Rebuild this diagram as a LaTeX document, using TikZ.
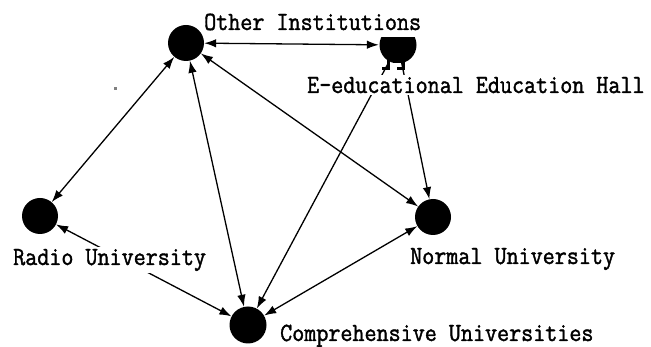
\documentclass[tikz,border=0pt]{standalone}
\usepackage{fontspec}
\newfontfamily\labfont{Latin Modern Mono}[FakeBold=1.6]
\usetikzlibrary{arrows.meta}
\begin{document}
\begin{tikzpicture}[x=1pt,y=-1pt,
  dot/.style={circle, fill=black, minimum size=36pt, inner sep=0pt},
  lab/.style={anchor=base west, inner sep=2pt, font=\labfont\fontsize{23.4}{26}\selectfont},
  cover/.style={fill=white},
  link/.style={line width=1.3pt, {Latex[length=12pt,width=8.5pt]}-{Latex[length=12pt,width=8.5pt]}},
  oneway/.style={line width=1.3pt, -{Latex[length=12pt,width=8.5pt]}}]
\useasboundingbox (0,0) rectangle (651,347);
% nodes
\node[dot] (O) at (186,43) {};
\node[dot] (R) at (40,216) {};
\node[dot, minimum size=37pt] (C) at (248,325) {};
\node[dot] (N) at (433,217) {};
\node[circle, minimum size=38pt, inner sep=0pt] (E) at (398,45) {};
% connectors
\draw[link] (O) -- (E);
\draw[link] (O) -- (R);
\draw[link] (O) -- (C);
\draw[link] (O) -- (N);
\draw[oneway] (E.center) -- (N);
\draw[oneway] (E.center) -- (C);
\draw[link] (R) -- (C);
\draw[link] (N) -- (C);
% E node body
\begin{scope}
  \clip (375,38) rectangle (422,63);
  \fill (E.center) circle (18.5pt);
\end{scope}
\draw[line width=3pt] (388,58) -- (388,69);
\draw[line width=3pt] (403,58) -- (403,69);
\fill (382,67) rectangle (390,70);
\fill (397,67) rectangle (405,70);
% stray dot
\fill[gray] (113.5,87.5) rectangle (116.5,90.5);
% labels
\node[lab] (lO) at (202,30) {\scalebox{1}[1.12]{Other Institutions}};
\node[lab, cover] (lE) at (305,93) {\scalebox{1}[1.12]{E-educational Education Hall}};
\node[lab, cover] (lR) at (11,265) {\scalebox{1}[1.12]{Radio University}};
\node[lab] (lN) at (408,264) {\scalebox{1}[1.12]{Normal University}};
\node[lab] (lC) at (278,341) {\scalebox{1}[1.12]{Comprehensive Universities}};
\end{tikzpicture}
\end{document}
